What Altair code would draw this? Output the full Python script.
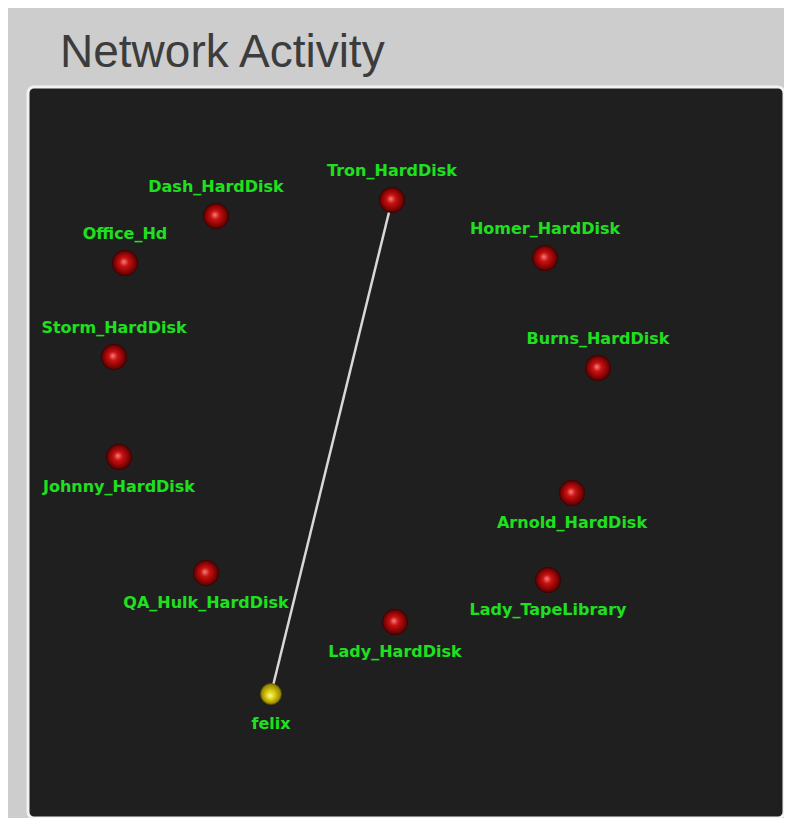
import altair as alt
import pandas as pd

# Node layout (panel coordinates, origin top-left of the dark panel)
nodes = ["Tron_HardDisk", "Dash_HardDisk", "Office_Hd", "Homer_HardDisk",
         "Storm_HardDisk", "Burns_HardDisk", "Johnny_HardDisk", "Arnold_HardDisk",
         "QA_Hulk_HardDisk", "Lady_TapeLibrary", "Lady_HardDisk", "felix"]
node_x = [364, 188, 97, 517, 86, 570, 91, 544, 178, 520, 367, 243]
node_y = [113, 129, 176, 171, 270, 281, 370, 406, 486, 493, 535, 607]
label_pos = ["above", "above", "above", "above", "above", "above",
             "below", "below", "below", "below", "below", "below"]
node_kind = ["disk"] * 11 + ["host"]

link_from = ["felix"]
link_to = ["Tron_HardDisk"]

df = pd.DataFrame({"node": nodes, "x": node_x, "y": node_y,
                   "pos": label_pos, "kind": node_kind})
idx = {n: i for i, n in enumerate(nodes)}
links = pd.DataFrame({
    "x": [node_x[idx[a]] for a in link_from],
    "y": [node_y[idx[a]] for a in link_from],
    "x2": [node_x[idx[b]] for b in link_to],
    "y2": [node_y[idx[b]] for b in link_to],
})

W, H = 756, 731
xs = alt.Scale(domain=[0, 756], nice=False, zero=False)
ys = alt.Scale(domain=[0, 731], nice=False, zero=False, reverse=True)
X = alt.X("x:Q", scale=xs, axis=None)
Y = alt.Y("y:Q", scale=ys, axis=None)

line = alt.Chart(links).mark_rule(color="#d8d8d8", strokeWidth=2.5).encode(
    x=X, y=Y, x2="x2:Q", y2="y2:Q")

red_grad = alt.RadialGradient(gradient="radial", x1=0.45, y1=0.45, r1=0,
                              x2=0.5, y2=0.5, r2=0.5,
                              stops=[alt.GradientStop(offset=0, color="#f08080"),
                                     alt.GradientStop(offset=0.35, color="#cc1010"),
                                     alt.GradientStop(offset=1, color="#5a0000")])
yel_grad = alt.RadialGradient(gradient="radial", x1=0.45, y1=0.6, r1=0,
                              x2=0.5, y2=0.5, r2=0.5,
                              stops=[alt.GradientStop(offset=0, color="#fff6a0"),
                                     alt.GradientStop(offset=0.4, color="#e0d010"),
                                     alt.GradientStop(offset=1, color="#8a7a00")])

disks = alt.Chart(df).transform_filter("datum.kind == 'disk'").mark_point(
    shape="circle", filled=True, size=640, fill=red_grad, opacity=1,
    stroke="#3a0000", strokeWidth=0.8).encode(x=X, y=Y)
hosts = alt.Chart(df).transform_filter("datum.kind == 'host'").mark_point(
    shape="circle", filled=True, size=440, fill=yel_grad, opacity=1,
    stroke="#555000", strokeWidth=0.8).encode(x=X, y=Y)

lab_style = dict(color="#1fe01f", font="DejaVu Sans", fontSize=16,
                 fontWeight="bold", align="center")
above = alt.Chart(df).transform_filter("datum.pos == 'above'").mark_text(
    dy=-29, **lab_style).encode(x=X, y=Y, text="node:N")
below = alt.Chart(df).transform_filter("datum.pos == 'below'").mark_text(
    dy=30, **lab_style).encode(x=X, y=Y, text="node:N")

chart = alt.layer(line, disks, hosts, above, below).properties(
    width=W, height=H,
    title=alt.TitleParams("Network Activity", anchor="start", dx=32,
                          font="Liberation Sans", fontSize=46,
                          fontWeight="normal", color="#3c3c3c", offset=10),
    background="#cdcdcd",
    padding={"left": 20, "top": 22, "right": 0, "bottom": 0},
).configure_view(fill="#1f1f1f", stroke="#f2f2f2", strokeWidth=3,
                 cornerRadius=6)

chart.save("out.html", embed_options={"renderer": "svg", "actions": False})
